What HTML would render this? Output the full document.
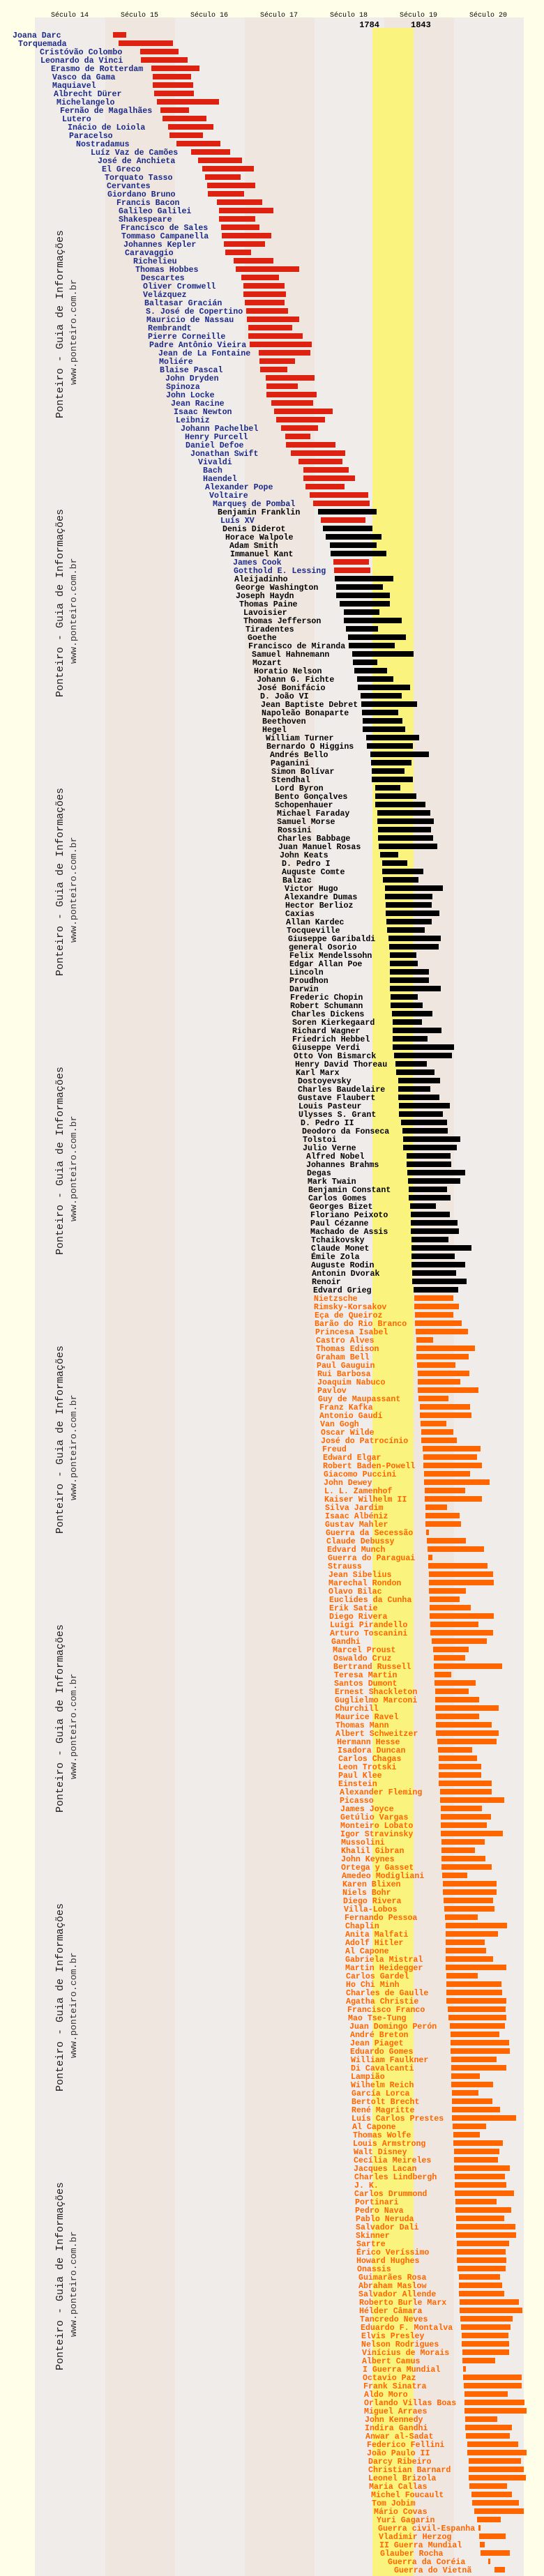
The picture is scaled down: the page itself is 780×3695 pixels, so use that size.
<!DOCTYPE html>
<html><head><meta charset="utf-8"><style>
html,body{margin:0;padding:0;background:#fffee8;}
svg{display:block}
.rows line{stroke-width:8}
.rows text{font-family:"Liberation Mono",monospace;font-weight:bold;font-size:11.6px;transform:translate(-144px,4px)}
.u line{stroke:#dd2211}.u text{fill:#1c2a88}
.k line{stroke:#000}.k text{fill:#000}
.o line{stroke:#ff6600}.o text{fill:#ff6600}
.hd{font-family:"Liberation Mono",monospace;font-size:10px;fill:#000}
.yr{font-family:"Liberation Mono",monospace;font-size:12px;font-weight:bold;fill:#000}
.wm{font-family:"Liberation Mono",monospace;font-size:15px;fill:#222}
.wu{font-family:"Liberation Mono",monospace;font-size:13.3px;fill:#333}
</style></head><body>
<svg width="780" height="3695" xmlns="http://www.w3.org/2000/svg">
<rect x="0" y="0" width="780" height="3695" fill="#fffee8"/>
<rect x="50" y="25" width="101" height="3670" fill="#f0ecea"/>
<rect x="151" y="25" width="100" height="3670" fill="#efe6df"/>
<rect x="251" y="25" width="100" height="3670" fill="#f0ecea"/>
<rect x="351" y="25" width="100" height="3670" fill="#efe6df"/>
<rect x="451" y="25" width="100" height="3670" fill="#f0ecea"/>
<rect x="551" y="25" width="100" height="3670" fill="#efe6df"/>
<rect x="651" y="25" width="100" height="3670" fill="#f0ecea"/>
<rect x="534" y="40" width="59" height="3655" fill="#faf47e"/>
<g class="hd" text-anchor="middle">
<text x="100" y="24">Século 14</text><text x="200" y="24">Século 15</text><text x="300" y="24">Século 16</text><text x="400" y="24">Século 17</text><text x="500" y="24">Século 18</text><text x="600" y="24">Século 19</text><text x="700" y="24">Século 20</text>
</g>
<text class="yr" x="544" y="39" text-anchor="end">1784</text>
<text class="yr" x="589" y="39">1843</text>
<g>
<text class="wm" transform="translate(90,600) rotate(-90)">Ponteiro - Guia de Informações</text><text class="wu" transform="translate(109,552) rotate(-90)">www.ponteiro.com.br</text>
<text class="wm" transform="translate(90,1000) rotate(-90)">Ponteiro - Guia de Informações</text><text class="wu" transform="translate(109,952) rotate(-90)">www.ponteiro.com.br</text>
<text class="wm" transform="translate(90,1400) rotate(-90)">Ponteiro - Guia de Informações</text><text class="wu" transform="translate(109,1352) rotate(-90)">www.ponteiro.com.br</text>
<text class="wm" transform="translate(90,1800) rotate(-90)">Ponteiro - Guia de Informações</text><text class="wu" transform="translate(109,1752) rotate(-90)">www.ponteiro.com.br</text>
<text class="wm" transform="translate(90,2200) rotate(-90)">Ponteiro - Guia de Informações</text><text class="wu" transform="translate(109,2152) rotate(-90)">www.ponteiro.com.br</text>
<text class="wm" transform="translate(90,2600) rotate(-90)">Ponteiro - Guia de Informações</text><text class="wu" transform="translate(109,2552) rotate(-90)">www.ponteiro.com.br</text>
<text class="wm" transform="translate(90,3000) rotate(-90)">Ponteiro - Guia de Informações</text><text class="wu" transform="translate(109,2952) rotate(-90)">www.ponteiro.com.br</text>
<text class="wm" transform="translate(90,3400) rotate(-90)">Ponteiro - Guia de Informações</text><text class="wu" transform="translate(109,3352) rotate(-90)">www.ponteiro.com.br</text>
</g>
<g class="rows" transform="translate(-1250,0)">
<g class="u" transform="translate(0,50)"><line x1="1412" x2="1431"/><text x="1412">Joana Darc</text></g>
<g class="u" transform="translate(0,62)"><line x1="1420" x2="1498"/><text x="1420">Torquemada</text></g>
<g class="u" transform="translate(0,74)"><line x1="1451" x2="1506"/><text x="1451">Cristóvão Colombo</text></g>
<g class="u" transform="translate(0,86)"><line x1="1452" x2="1519"/><text x="1452">Leonardo da Vinci</text></g>
<g class="u" transform="translate(0,98)"><line x1="1467" x2="1536"/><text x="1467">Erasmo de Rotterdam</text></g>
<g class="u" transform="translate(0,110)"><line x1="1469" x2="1524"/><text x="1469">Vasco da Gama</text></g>
<g class="u" transform="translate(0,122)"><line x1="1469" x2="1527"/><text x="1469">Maquiavel</text></g>
<g class="u" transform="translate(0,134)"><line x1="1471" x2="1528"/><text x="1471">Albrecht Dürer</text></g>
<g class="u" transform="translate(0,146)"><line x1="1475" x2="1564"/><text x="1475">Michelangelo</text></g>
<g class="u" transform="translate(0,158)"><line x1="1480" x2="1521"/><text x="1480">Fernão de Magalhães</text></g>
<g class="u" transform="translate(0,170)"><line x1="1483" x2="1546"/><text x="1483">Lutero</text></g>
<g class="u" transform="translate(0,182)"><line x1="1491" x2="1556"/><text x="1491">Inácio de Loiola</text></g>
<g class="u" transform="translate(0,194)"><line x1="1493" x2="1541"/><text x="1493">Paracelso</text></g>
<g class="u" transform="translate(0,206)"><line x1="1503" x2="1566"/><text x="1503">Nostradamus</text></g>
<g class="u" transform="translate(0,218)"><line x1="1524" x2="1580"/><text x="1524">Luíz Vaz de Camões</text></g>
<g class="u" transform="translate(0,230)"><line x1="1534" x2="1597"/><text x="1534">José de Anchieta</text></g>
<g class="u" transform="translate(0,242)"><line x1="1540" x2="1614"/><text x="1540">El Greco</text></g>
<g class="u" transform="translate(0,254)"><line x1="1544" x2="1595"/><text x="1544">Torquato Tasso</text></g>
<g class="u" transform="translate(0,266)"><line x1="1547" x2="1616"/><text x="1547">Cervantes</text></g>
<g class="u" transform="translate(0,278)"><line x1="1548" x2="1600"/><text x="1548">Giordano Bruno</text></g>
<g class="u" transform="translate(0,290)"><line x1="1561" x2="1626"/><text x="1561">Francis Bacon</text></g>
<g class="u" transform="translate(0,302)"><line x1="1564" x2="1642"/><text x="1564">Galileo Galilei</text></g>
<g class="u" transform="translate(0,314)"><line x1="1564" x2="1616"/><text x="1564">Shakespeare</text></g>
<g class="u" transform="translate(0,326)"><line x1="1567" x2="1622"/><text x="1567">Francisco de Sales</text></g>
<g class="u" transform="translate(0,338)"><line x1="1568" x2="1639"/><text x="1568">Tommaso Campanella</text></g>
<g class="u" transform="translate(0,350)"><line x1="1571" x2="1630"/><text x="1571">Johannes Kepler</text></g>
<g class="u" transform="translate(0,362)"><line x1="1573" x2="1610"/><text x="1573">Caravaggio</text></g>
<g class="u" transform="translate(0,374)"><line x1="1585" x2="1642"/><text x="1585">Richelieu</text></g>
<g class="u" transform="translate(0,386)"><line x1="1588" x2="1679"/><text x="1588">Thomas Hobbes</text></g>
<g class="u" transform="translate(0,398)"><line x1="1596" x2="1650"/><text x="1596">Descartes</text></g>
<g class="u" transform="translate(0,410)"><line x1="1599" x2="1658"/><text x="1599">Oliver Cromwell</text></g>
<g class="u" transform="translate(0,422)"><line x1="1599" x2="1660"/><text x="1599">Velázquez</text></g>
<g class="u" transform="translate(0,434)"><line x1="1601" x2="1658"/><text x="1601">Baltasar Gracián</text></g>
<g class="u" transform="translate(0,446)"><line x1="1603" x2="1663"/><text x="1603">S. José de Copertino</text></g>
<g class="u" transform="translate(0,458)"><line x1="1604" x2="1679"/><text x="1604">Mauricio de Nassau</text></g>
<g class="u" transform="translate(0,470)"><line x1="1606" x2="1669"/><text x="1606">Rembrandt</text></g>
<g class="u" transform="translate(0,482)"><line x1="1606" x2="1684"/><text x="1606">Pierre Corneille</text></g>
<g class="u" transform="translate(0,494)"><line x1="1608" x2="1697"/><text x="1608">Padre Antônio Vieira</text></g>
<g class="u" transform="translate(0,506)"><line x1="1621" x2="1695"/><text x="1621">Jean de La Fontaine</text></g>
<g class="u" transform="translate(0,518)"><line x1="1622" x2="1673"/><text x="1622">Moliére</text></g>
<g class="u" transform="translate(0,530)"><line x1="1623" x2="1662"/><text x="1623">Blaise Pascal</text></g>
<g class="u" transform="translate(0,542)"><line x1="1631" x2="1701"/><text x="1631">John Dryden</text></g>
<g class="u" transform="translate(0,554)"><line x1="1632" x2="1677"/><text x="1632">Spinoza</text></g>
<g class="u" transform="translate(0,566)"><line x1="1632" x2="1704"/><text x="1632">John Locke</text></g>
<g class="u" transform="translate(0,578)"><line x1="1639" x2="1699"/><text x="1639">Jean Racine</text></g>
<g class="u" transform="translate(0,590)"><line x1="1643" x2="1727"/><text x="1643">Isaac Newton</text></g>
<g class="u" transform="translate(0,602)"><line x1="1646" x2="1716"/><text x="1646">Leibniz</text></g>
<g class="u" transform="translate(0,614)"><line x1="1653" x2="1706"/><text x="1653">Johann Pachelbel</text></g>
<g class="u" transform="translate(0,626)"><line x1="1659" x2="1695"/><text x="1659">Henry Purcell</text></g>
<g class="u" transform="translate(0,638)"><line x1="1660" x2="1731"/><text x="1660">Daniel Defoe</text></g>
<g class="u" transform="translate(0,650)"><line x1="1667" x2="1745"/><text x="1667">Jonathan Swift</text></g>
<g class="u" transform="translate(0,662)"><line x1="1678" x2="1741"/><text x="1678">Vivaldi</text></g>
<g class="u" transform="translate(0,674)"><line x1="1685" x2="1750"/><text x="1685">Bach</text></g>
<g class="u" transform="translate(0,686)"><line x1="1685" x2="1759"/><text x="1685">Haendel</text></g>
<g class="u" transform="translate(0,698)"><line x1="1688" x2="1744"/><text x="1688">Alexander Pope</text></g>
<g class="u" transform="translate(0,710)"><line x1="1694" x2="1778"/><text x="1694">Voltaire</text></g>
<g class="u" transform="translate(0,722)"><line x1="1699" x2="1780"/><text x="1699">Marqueş de Pombal</text></g>
<g class="k" transform="translate(0,734)"><line x1="1706" x2="1790"/><text x="1706">Benjamin Franklin</text></g>
<g class="u" transform="translate(0,746)"><line x1="1710" x2="1774"/><text x="1710">Luís XV</text></g>
<g class="k" transform="translate(0,758)"><line x1="1713" x2="1784"/><text x="1713">Denis Diderot</text></g>
<g class="k" transform="translate(0,770)"><line x1="1717" x2="1797"/><text x="1717">Horace Walpole</text></g>
<g class="k" transform="translate(0,782)"><line x1="1723" x2="1790"/><text x="1723">Adam Smith</text></g>
<g class="k" transform="translate(0,794)"><line x1="1724" x2="1804"/><text x="1724">Immanuel Kant</text></g>
<g class="u" transform="translate(0,806)"><line x1="1728" x2="1779"/><text x="1728">James Cook</text></g>
<g class="u" transform="translate(0,818)"><line x1="1729" x2="1781"/><text x="1729">Gotthold E. Lessing</text></g>
<g class="k" transform="translate(0,830)"><line x1="1730" x2="1814"/><text x="1730">Aleijadinho</text></g>
<g class="k" transform="translate(0,842)"><line x1="1732" x2="1799"/><text x="1732">George Washington</text></g>
<g class="k" transform="translate(0,854)"><line x1="1732" x2="1809"/><text x="1732">Joseph Haydn</text></g>
<g class="k" transform="translate(0,866)"><line x1="1737" x2="1809"/><text x="1737">Thomas Paine</text></g>
<g class="k" transform="translate(0,878)"><line x1="1743" x2="1794"/><text x="1743">Lavoisier</text></g>
<g class="k" transform="translate(0,890)"><line x1="1743" x2="1826"/><text x="1743">Thomas Jefferson</text></g>
<g class="k" transform="translate(0,902)"><line x1="1746" x2="1792"/><text x="1746">Tiradentes</text></g>
<g class="k" transform="translate(0,914)"><line x1="1749" x2="1832"/><text x="1749">Goethe</text></g>
<g class="k" transform="translate(0,926)"><line x1="1750" x2="1816"/><text x="1750">Francisco de Miranda</text></g>
<g class="k" transform="translate(0,938)"><line x1="1755" x2="1843"/><text x="1755">Samuel Hahnemann</text></g>
<g class="k" transform="translate(0,950)"><line x1="1756" x2="1791"/><text x="1756">Mozart</text></g>
<g class="k" transform="translate(0,962)"><line x1="1758" x2="1805"/><text x="1758">Horatio Nelson</text></g>
<g class="k" transform="translate(0,974)"><line x1="1762" x2="1814"/><text x="1762">Johann G. Fichte</text></g>
<g class="k" transform="translate(0,986)"><line x1="1763" x2="1838"/><text x="1763">José Bonifácio</text></g>
<g class="k" transform="translate(0,998)"><line x1="1767" x2="1826"/><text x="1767">D. João VI</text></g>
<g class="k" transform="translate(0,1010)"><line x1="1768" x2="1848"/><text x="1768">Jean Baptiste Debret</text></g>
<g class="k" transform="translate(0,1022)"><line x1="1769" x2="1821"/><text x="1769">Napoleão Bonaparte</text></g>
<g class="k" transform="translate(0,1034)"><line x1="1770" x2="1827"/><text x="1770">Beethoven</text></g>
<g class="k" transform="translate(0,1046)"><line x1="1770" x2="1831"/><text x="1770">Hegel</text></g>
<g class="k" transform="translate(0,1058)"><line x1="1775" x2="1851"/><text x="1775">William Turner</text></g>
<g class="k" transform="translate(0,1070)"><line x1="1776" x2="1842"/><text x="1776">Bernardo O Higgins</text></g>
<g class="k" transform="translate(0,1082)"><line x1="1781" x2="1865"/><text x="1781">Andrés Bello</text></g>
<g class="k" transform="translate(0,1094)"><line x1="1782" x2="1840"/><text x="1782">Paganini</text></g>
<g class="k" transform="translate(0,1106)"><line x1="1783" x2="1830"/><text x="1783">Simon Bolívar</text></g>
<g class="k" transform="translate(0,1118)"><line x1="1783" x2="1842"/><text x="1783">Stendhal</text></g>
<g class="k" transform="translate(0,1130)"><line x1="1788" x2="1824"/><text x="1788">Lord Byron</text></g>
<g class="k" transform="translate(0,1142)"><line x1="1788" x2="1847"/><text x="1788">Bento Gonçalves</text></g>
<g class="k" transform="translate(0,1154)"><line x1="1788" x2="1860"/><text x="1788">Schopenhauer</text></g>
<g class="k" transform="translate(0,1166)"><line x1="1791" x2="1867"/><text x="1791">Michael Faraday</text></g>
<g class="k" transform="translate(0,1178)"><line x1="1791" x2="1872"/><text x="1791">Samuel Morse</text></g>
<g class="k" transform="translate(0,1190)"><line x1="1792" x2="1868"/><text x="1792">Rossini</text></g>
<g class="k" transform="translate(0,1202)"><line x1="1792" x2="1871"/><text x="1792">Charles Babbage</text></g>
<g class="k" transform="translate(0,1214)"><line x1="1793" x2="1877"/><text x="1793">Juan Manuel Rosas</text></g>
<g class="k" transform="translate(0,1226)"><line x1="1795" x2="1821"/><text x="1795">John Keats</text></g>
<g class="k" transform="translate(0,1238)"><line x1="1798" x2="1834"/><text x="1798">D. Pedro I</text></g>
<g class="k" transform="translate(0,1250)"><line x1="1798" x2="1857"/><text x="1798">Auguste Comte</text></g>
<g class="k" transform="translate(0,1262)"><line x1="1799" x2="1850"/><text x="1799">Balzac</text></g>
<g class="k" transform="translate(0,1274)"><line x1="1802" x2="1885"/><text x="1802">Victor Hugo</text></g>
<g class="k" transform="translate(0,1286)"><line x1="1802" x2="1870"/><text x="1802">Alexandre Dumas</text></g>
<g class="k" transform="translate(0,1298)"><line x1="1803" x2="1869"/><text x="1803">Hector Berlioz</text></g>
<g class="k" transform="translate(0,1310)"><line x1="1803" x2="1880"/><text x="1803">Caxias</text></g>
<g class="k" transform="translate(0,1322)"><line x1="1804" x2="1869"/><text x="1804">Allan Kardec</text></g>
<g class="k" transform="translate(0,1334)"><line x1="1805" x2="1859"/><text x="1805">Tocqueville</text></g>
<g class="k" transform="translate(0,1346)"><line x1="1807" x2="1882"/><text x="1807">Giuseppe Garibaldi</text></g>
<g class="k" transform="translate(0,1358)"><line x1="1808" x2="1879"/><text x="1808">general Osorio</text></g>
<g class="k" transform="translate(0,1370)"><line x1="1809" x2="1847"/><text x="1809">Felix Mendelssohn</text></g>
<g class="k" transform="translate(0,1382)"><line x1="1809" x2="1849"/><text x="1809">Edgar Allan Poe</text></g>
<g class="k" transform="translate(0,1394)"><line x1="1809" x2="1865"/><text x="1809">Lincoln</text></g>
<g class="k" transform="translate(0,1406)"><line x1="1809" x2="1865"/><text x="1809">Proudhon</text></g>
<g class="k" transform="translate(0,1418)"><line x1="1809" x2="1882"/><text x="1809">Darwin</text></g>
<g class="k" transform="translate(0,1430)"><line x1="1810" x2="1849"/><text x="1810">Frederic Chopin</text></g>
<g class="k" transform="translate(0,1442)"><line x1="1810" x2="1856"/><text x="1810">Robert Schumann</text></g>
<g class="k" transform="translate(0,1454)"><line x1="1812" x2="1870"/><text x="1812">Charles Dickens</text></g>
<g class="k" transform="translate(0,1466)"><line x1="1813" x2="1855"/><text x="1813">Soren Kierkegaard</text></g>
<g class="k" transform="translate(0,1478)"><line x1="1813" x2="1883"/><text x="1813">Richard Wagner</text></g>
<g class="k" transform="translate(0,1490)"><line x1="1813" x2="1863"/><text x="1813">Friedrich Hebbel</text></g>
<g class="k" transform="translate(0,1502)"><line x1="1813" x2="1901"/><text x="1813">Giuseppe Verdi</text></g>
<g class="k" transform="translate(0,1514)"><line x1="1815" x2="1898"/><text x="1815">Otto Von Bismarck</text></g>
<g class="k" transform="translate(0,1526)"><line x1="1817" x2="1862"/><text x="1817">Henry David Thoreau</text></g>
<g class="k" transform="translate(0,1538)"><line x1="1818" x2="1873"/><text x="1818">Karl Marx</text></g>
<g class="k" transform="translate(0,1550)"><line x1="1821" x2="1881"/><text x="1821">Dostoyevsky</text></g>
<g class="k" transform="translate(0,1562)"><line x1="1821" x2="1867"/><text x="1821">Charles Baudelaire</text></g>
<g class="k" transform="translate(0,1574)"><line x1="1821" x2="1880"/><text x="1821">Gustave Flaubert</text></g>
<g class="k" transform="translate(0,1586)"><line x1="1822" x2="1895"/><text x="1822">Louis Pasteur</text></g>
<g class="k" transform="translate(0,1598)"><line x1="1822" x2="1885"/><text x="1822">Ulysses S. Grant</text></g>
<g class="k" transform="translate(0,1610)"><line x1="1825" x2="1891"/><text x="1825">D. Pedro II</text></g>
<g class="k" transform="translate(0,1622)"><line x1="1827" x2="1892"/><text x="1827">Deodoro da Fonseca</text></g>
<g class="k" transform="translate(0,1634)"><line x1="1828" x2="1910"/><text x="1828">Tolstoi</text></g>
<g class="k" transform="translate(0,1646)"><line x1="1828" x2="1905"/><text x="1828">Julio Verne</text></g>
<g class="k" transform="translate(0,1658)"><line x1="1833" x2="1896"/><text x="1833">Alfred Nobel</text></g>
<g class="k" transform="translate(0,1670)"><line x1="1833" x2="1897"/><text x="1833">Johannes Brahms</text></g>
<g class="k" transform="translate(0,1682)"><line x1="1834" x2="1917"/><text x="1834">Degas</text></g>
<g class="k" transform="translate(0,1694)"><line x1="1835" x2="1910"/><text x="1835">Mark Twain</text></g>
<g class="k" transform="translate(0,1706)"><line x1="1836" x2="1891"/><text x="1836">Benjamin Constant</text></g>
<g class="k" transform="translate(0,1718)"><line x1="1836" x2="1896"/><text x="1836">Carlos Gomes</text></g>
<g class="k" transform="translate(0,1730)"><line x1="1838" x2="1875"/><text x="1838">Georges Bizet</text></g>
<g class="k" transform="translate(0,1742)"><line x1="1839" x2="1895"/><text x="1839">Floriano Peixoto</text></g>
<g class="k" transform="translate(0,1754)"><line x1="1839" x2="1906"/><text x="1839">Paul Cézanne</text></g>
<g class="k" transform="translate(0,1766)"><line x1="1839" x2="1908"/><text x="1839">Machado de Assis</text></g>
<g class="k" transform="translate(0,1778)"><line x1="1840" x2="1893"/><text x="1840">Tchaikovsky</text></g>
<g class="k" transform="translate(0,1790)"><line x1="1840" x2="1926"/><text x="1840">Claude Monet</text></g>
<g class="k" transform="translate(0,1802)"><line x1="1840" x2="1902"/><text x="1840">Émile Zola</text></g>
<g class="k" transform="translate(0,1814)"><line x1="1840" x2="1917"/><text x="1840">Auguste Rodin</text></g>
<g class="k" transform="translate(0,1826)"><line x1="1841" x2="1904"/><text x="1841">Antonin Dvorak</text></g>
<g class="k" transform="translate(0,1838)"><line x1="1841" x2="1919"/><text x="1841">Renoir</text></g>
<g class="k" transform="translate(0,1850)"><line x1="1843" x2="1907"/><text x="1843">Edvard Grieg</text></g>
<g class="o" transform="translate(0,1862)"><line x1="1844" x2="1900"/><text x="1844">Nietzsche</text></g>
<g class="o" transform="translate(0,1874)"><line x1="1844" x2="1908"/><text x="1844">Rimsky-Korsakov</text></g>
<g class="o" transform="translate(0,1886)"><line x1="1845" x2="1900"/><text x="1845">Eça de Queiroz</text></g>
<g class="o" transform="translate(0,1898)"><line x1="1845" x2="1912"/><text x="1845">Barão do Rio Branco</text></g>
<g class="o" transform="translate(0,1910)"><line x1="1846" x2="1921"/><text x="1846">Princesa Isabel</text></g>
<g class="o" transform="translate(0,1922)"><line x1="1847" x2="1871"/><text x="1847">Castro Alves</text></g>
<g class="o" transform="translate(0,1934)"><line x1="1847" x2="1931"/><text x="1847">Thomas Edison</text></g>
<g class="o" transform="translate(0,1946)"><line x1="1847" x2="1922"/><text x="1847">Graham Bell</text></g>
<g class="o" transform="translate(0,1958)"><line x1="1848" x2="1903"/><text x="1848">Paul Gauguin</text></g>
<g class="o" transform="translate(0,1970)"><line x1="1849" x2="1923"/><text x="1849">Rui Barbosa</text></g>
<g class="o" transform="translate(0,1982)"><line x1="1849" x2="1910"/><text x="1849">Joaquim Nabuco</text></g>
<g class="o" transform="translate(0,1994)"><line x1="1849" x2="1936"/><text x="1849">Pavlov</text></g>
<g class="o" transform="translate(0,2006)"><line x1="1850" x2="1893"/><text x="1850">Guy de Maupassant</text></g>
<g class="o" transform="translate(0,2018)"><line x1="1852" x2="1924"/><text x="1852">Franz Kafka</text></g>
<g class="o" transform="translate(0,2030)"><line x1="1852" x2="1926"/><text x="1852">Antonio Gaudí</text></g>
<g class="o" transform="translate(0,2042)"><line x1="1853" x2="1890"/><text x="1853">Van Gogh</text></g>
<g class="o" transform="translate(0,2054)"><line x1="1854" x2="1900"/><text x="1854">Oscar Wilde</text></g>
<g class="o" transform="translate(0,2066)"><line x1="1854" x2="1905"/><text x="1854">José do Patrocínio</text></g>
<g class="o" transform="translate(0,2078)"><line x1="1856" x2="1939"/><text x="1856">Freud</text></g>
<g class="o" transform="translate(0,2090)"><line x1="1857" x2="1934"/><text x="1857">Edward Elgar</text></g>
<g class="o" transform="translate(0,2102)"><line x1="1857" x2="1941"/><text x="1857">Robert Baden-Powell</text></g>
<g class="o" transform="translate(0,2114)"><line x1="1858" x2="1924"/><text x="1858">Giacomo Puccini</text></g>
<g class="o" transform="translate(0,2126)"><line x1="1858" x2="1952"/><text x="1858">John Dewey</text></g>
<g class="o" transform="translate(0,2138)"><line x1="1859" x2="1917"/><text x="1859">L. L. Zamenhof</text></g>
<g class="o" transform="translate(0,2150)"><line x1="1859" x2="1941"/><text x="1859">Kaiser Wilhelm II</text></g>
<g class="o" transform="translate(0,2162)"><line x1="1860" x2="1891"/><text x="1860">Silva Jardim</text></g>
<g class="o" transform="translate(0,2174)"><line x1="1860" x2="1909"/><text x="1860">Isaac Albéniz</text></g>
<g class="o" transform="translate(0,2186)"><line x1="1860" x2="1911"/><text x="1860">Gustav Mahler</text></g>
<g class="o" transform="translate(0,2198)"><line x1="1861" x2="1865"/><text x="1861">Guerra da Secessão</text></g>
<g class="o" transform="translate(0,2210)"><line x1="1862" x2="1918"/><text x="1862">Claude Debussy</text></g>
<g class="o" transform="translate(0,2222)"><line x1="1863" x2="1944"/><text x="1863">Edvard Munch</text></g>
<g class="o" transform="translate(0,2234)"><line x1="1864" x2="1870"/><text x="1864">Guerra do Paraguai</text></g>
<g class="o" transform="translate(0,2246)"><line x1="1864" x2="1949"/><text x="1864">Strauss</text></g>
<g class="o" transform="translate(0,2258)"><line x1="1865" x2="1957"/><text x="1865">Jean Sibelius</text></g>
<g class="o" transform="translate(0,2270)"><line x1="1865" x2="1958"/><text x="1865">Marechal Rondon</text></g>
<g class="o" transform="translate(0,2282)"><line x1="1865" x2="1918"/><text x="1865">Olavo Bilac</text></g>
<g class="o" transform="translate(0,2294)"><line x1="1866" x2="1909"/><text x="1866">Euclides da Cunha</text></g>
<g class="o" transform="translate(0,2306)"><line x1="1866" x2="1925"/><text x="1866">Erik Satie</text></g>
<g class="o" transform="translate(0,2318)"><line x1="1866" x2="1958"/><text x="1866">Diego Rivera</text></g>
<g class="o" transform="translate(0,2330)"><line x1="1867" x2="1936"/><text x="1867">Luigi Pirandello</text></g>
<g class="o" transform="translate(0,2342)"><line x1="1867" x2="1957"/><text x="1867">Arturo Toscanini</text></g>
<g class="o" transform="translate(0,2354)"><line x1="1869" x2="1948"/><text x="1869">Gandhi</text></g>
<g class="o" transform="translate(0,2366)"><line x1="1871" x2="1922"/><text x="1871">Marcel Proust</text></g>
<g class="o" transform="translate(0,2378)"><line x1="1872" x2="1917"/><text x="1872">Oswaldo Cruz</text></g>
<g class="o" transform="translate(0,2390)"><line x1="1872" x2="1970"/><text x="1872">Bertrand Russell</text></g>
<g class="o" transform="translate(0,2402)"><line x1="1873" x2="1897"/><text x="1873">Teresa Martin</text></g>
<g class="o" transform="translate(0,2414)"><line x1="1873" x2="1932"/><text x="1873">Santos Dumont</text></g>
<g class="o" transform="translate(0,2426)"><line x1="1874" x2="1922"/><text x="1874">Ernest Shackleton</text></g>
<g class="o" transform="translate(0,2438)"><line x1="1874" x2="1937"/><text x="1874">Guglielmo Marconi</text></g>
<g class="o" transform="translate(0,2450)"><line x1="1874" x2="1965"/><text x="1874">Churchill</text></g>
<g class="o" transform="translate(0,2462)"><line x1="1875" x2="1937"/><text x="1875">Maurice Ravel</text></g>
<g class="o" transform="translate(0,2474)"><line x1="1875" x2="1955"/><text x="1875">Thomas Mann</text></g>
<g class="o" transform="translate(0,2486)"><line x1="1875" x2="1965"/><text x="1875">Albert Schweitzer</text></g>
<g class="o" transform="translate(0,2498)"><line x1="1877" x2="1962"/><text x="1877">Hermann Hesse</text></g>
<g class="o" transform="translate(0,2510)"><line x1="1878" x2="1927"/><text x="1878">Isadora Duncan</text></g>
<g class="o" transform="translate(0,2522)"><line x1="1879" x2="1934"/><text x="1879">Carlos Chagas</text></g>
<g class="o" transform="translate(0,2534)"><line x1="1879" x2="1940"/><text x="1879">Leon Trotski</text></g>
<g class="o" transform="translate(0,2546)"><line x1="1879" x2="1940"/><text x="1879">Paul Klee</text></g>
<g class="o" transform="translate(0,2558)"><line x1="1879" x2="1955"/><text x="1879">Einstein</text></g>
<g class="o" transform="translate(0,2570)"><line x1="1881" x2="1955"/><text x="1881">Alexander Fleming</text></g>
<g class="o" transform="translate(0,2582)"><line x1="1881" x2="1973"/><text x="1881">Picasso</text></g>
<g class="o" transform="translate(0,2594)"><line x1="1882" x2="1941"/><text x="1882">James Joyce</text></g>
<g class="o" transform="translate(0,2606)"><line x1="1882" x2="1954"/><text x="1882">Getúlio Vargas</text></g>
<g class="o" transform="translate(0,2618)"><line x1="1882" x2="1948"/><text x="1882">Monteiro Lobato</text></g>
<g class="o" transform="translate(0,2630)"><line x1="1882" x2="1971"/><text x="1882">Igor Stravinsky</text></g>
<g class="o" transform="translate(0,2642)"><line x1="1883" x2="1945"/><text x="1883">Mussolini</text></g>
<g class="o" transform="translate(0,2654)"><line x1="1883" x2="1931"/><text x="1883">Khalil Gibran</text></g>
<g class="o" transform="translate(0,2666)"><line x1="1883" x2="1946"/><text x="1883">John Keynes</text></g>
<g class="o" transform="translate(0,2678)"><line x1="1883" x2="1955"/><text x="1883">Ortega y Gasset</text></g>
<g class="o" transform="translate(0,2690)"><line x1="1884" x2="1920"/><text x="1884">Amedeo Modigliani</text></g>
<g class="o" transform="translate(0,2702)"><line x1="1885" x2="1962"/><text x="1885">Karen Blixen</text></g>
<g class="o" transform="translate(0,2714)"><line x1="1885" x2="1962"/><text x="1885">Niels Bohr</text></g>
<g class="o" transform="translate(0,2726)"><line x1="1886" x2="1957"/><text x="1886">Diego Rivera</text></g>
<g class="o" transform="translate(0,2738)"><line x1="1887" x2="1959"/><text x="1887">Villa-Lobos</text></g>
<g class="o" transform="translate(0,2750)"><line x1="1888" x2="1935"/><text x="1888">Fernando Pessoa</text></g>
<g class="o" transform="translate(0,2762)"><line x1="1889" x2="1977"/><text x="1889">Chaplin</text></g>
<g class="o" transform="translate(0,2774)"><line x1="1889" x2="1964"/><text x="1889">Anita Malfati</text></g>
<g class="o" transform="translate(0,2786)"><line x1="1889" x2="1945"/><text x="1889">Adolf Hitler</text></g>
<g class="o" transform="translate(0,2798)"><line x1="1889" x2="1947"/><text x="1889">Al Capone</text></g>
<g class="o" transform="translate(0,2810)"><line x1="1889" x2="1957"/><text x="1889">Gabriela Mistral</text></g>
<g class="o" transform="translate(0,2822)"><line x1="1889" x2="1976"/><text x="1889">Martin Heidegger</text></g>
<g class="o" transform="translate(0,2834)"><line x1="1890" x2="1935"/><text x="1890">Carlos Gardel</text></g>
<g class="o" transform="translate(0,2846)"><line x1="1890" x2="1969"/><text x="1890">Ho Chi Minh</text></g>
<g class="o" transform="translate(0,2858)"><line x1="1890" x2="1970"/><text x="1890">Charles de Gaulle</text></g>
<g class="o" transform="translate(0,2870)"><line x1="1890" x2="1976"/><text x="1890">Agatha Christie</text></g>
<g class="o" transform="translate(0,2882)"><line x1="1892" x2="1975"/><text x="1892">Francisco Franco</text></g>
<g class="o" transform="translate(0,2894)"><line x1="1893" x2="1976"/><text x="1893">Mao Tse-Tung</text></g>
<g class="o" transform="translate(0,2906)"><line x1="1895" x2="1974"/><text x="1895">Juan Domingo Perón</text></g>
<g class="o" transform="translate(0,2918)"><line x1="1896" x2="1966"/><text x="1896">André Breton</text></g>
<g class="o" transform="translate(0,2930)"><line x1="1896" x2="1980"/><text x="1896">Jean Piaget</text></g>
<g class="o" transform="translate(0,2942)"><line x1="1896" x2="1981"/><text x="1896">Eduardo Gomes</text></g>
<g class="o" transform="translate(0,2954)"><line x1="1897" x2="1962"/><text x="1897">William Faulkner</text></g>
<g class="o" transform="translate(0,2966)"><line x1="1897" x2="1976"/><text x="1897">Di Cavalcanti</text></g>
<g class="o" transform="translate(0,2978)"><line x1="1897" x2="1938"/><text x="1897">Lampião</text></g>
<g class="o" transform="translate(0,2990)"><line x1="1897" x2="1957"/><text x="1897">Wilhelm Reich</text></g>
<g class="o" transform="translate(0,3002)"><line x1="1898" x2="1936"/><text x="1898">García Lorca</text></g>
<g class="o" transform="translate(0,3014)"><line x1="1898" x2="1956"/><text x="1898">Bertolt Brecht</text></g>
<g class="o" transform="translate(0,3026)"><line x1="1898" x2="1967"/><text x="1898">René Magritte</text></g>
<g class="o" transform="translate(0,3038)"><line x1="1898" x2="1990"/><text x="1898">Luís Carlos Prestes</text></g>
<g class="o" transform="translate(0,3050)"><line x1="1899" x2="1947"/><text x="1899">Al Capone</text></g>
<g class="o" transform="translate(0,3062)"><line x1="1900" x2="1938"/><text x="1900">Thomas Wolfe</text></g>
<g class="o" transform="translate(0,3074)"><line x1="1900" x2="1971"/><text x="1900">Louis Armstrong</text></g>
<g class="o" transform="translate(0,3086)"><line x1="1901" x2="1966"/><text x="1901">Walt Disney</text></g>
<g class="o" transform="translate(0,3098)"><line x1="1901" x2="1964"/><text x="1901">Cecília Meireles</text></g>
<g class="o" transform="translate(0,3110)"><line x1="1901" x2="1981"/><text x="1901">Jacques Lacan</text></g>
<g class="o" transform="translate(0,3122)"><line x1="1902" x2="1974"/><text x="1902">Charles Lindbergh</text></g>
<g class="o" transform="translate(0,3134)"><line x1="1902" x2="1976"/><text x="1902">J. K.</text></g>
<g class="o" transform="translate(0,3146)"><line x1="1902" x2="1987"/><text x="1902">Carlos Drummond</text></g>
<g class="o" transform="translate(0,3158)"><line x1="1903" x2="1962"/><text x="1903">Portinari</text></g>
<g class="o" transform="translate(0,3170)"><line x1="1903" x2="1983"/><text x="1903">Pedro Nava</text></g>
<g class="o" transform="translate(0,3182)"><line x1="1904" x2="1973"/><text x="1904">Pablo Neruda</text></g>
<g class="o" transform="translate(0,3194)"><line x1="1904" x2="1989"/><text x="1904">Salvador Dali</text></g>
<g class="o" transform="translate(0,3206)"><line x1="1904" x2="1990"/><text x="1904">Skinner</text></g>
<g class="o" transform="translate(0,3218)"><line x1="1905" x2="1980"/><text x="1905">Sartre</text></g>
<g class="o" transform="translate(0,3230)"><line x1="1905" x2="1975"/><text x="1905">Érico Veríssimo</text></g>
<g class="o" transform="translate(0,3242)"><line x1="1905" x2="1976"/><text x="1905">Howard Hughes</text></g>
<g class="o" transform="translate(0,3254)"><line x1="1906" x2="1975"/><text x="1906">Onassis</text></g>
<g class="o" transform="translate(0,3266)"><line x1="1908" x2="1967"/><text x="1908">Guimarães Rosa</text></g>
<g class="o" transform="translate(0,3278)"><line x1="1908" x2="1970"/><text x="1908">Abraham Maslow</text></g>
<g class="o" transform="translate(0,3290)"><line x1="1908" x2="1973"/><text x="1908">Salvador Allende</text></g>
<g class="o" transform="translate(0,3302)"><line x1="1909" x2="1994"/><text x="1909">Roberto Burle Marx</text></g>
<g class="o" transform="translate(0,3314)"><line x1="1909" x2="1999"/><text x="1909">Hélder Câmara</text></g>
<g class="o" transform="translate(0,3326)"><line x1="1910" x2="1985"/><text x="1910">Tancredo Neves</text></g>
<g class="o" transform="translate(0,3338)"><line x1="1911" x2="1982"/><text x="1911">Eduardo F. Montalva</text></g>
<g class="o" transform="translate(0,3350)"><line x1="1912" x2="1979"/><text x="1912">Elvis Presley</text></g>
<g class="o" transform="translate(0,3362)"><line x1="1912" x2="1980"/><text x="1912">Nelson Rodrigues</text></g>
<g class="o" transform="translate(0,3374)"><line x1="1913" x2="1980"/><text x="1913">Vinícius de Morais</text></g>
<g class="o" transform="translate(0,3386)"><line x1="1913" x2="1960"/><text x="1913">Albert Camus</text></g>
<g class="o" transform="translate(0,3398)"><line x1="1914" x2="1918"/><text x="1914">I Guerra Mundial</text></g>
<g class="o" transform="translate(0,3410)"><line x1="1914" x2="1998"/><text x="1914">Octavio Paz</text></g>
<g class="o" transform="translate(0,3422)"><line x1="1915" x2="1998"/><text x="1915">Frank Sinatra</text></g>
<g class="o" transform="translate(0,3434)"><line x1="1916" x2="1978"/><text x="1916">Aldo Moro</text></g>
<g class="o" transform="translate(0,3446)"><line x1="1916" x2="2002"/><text x="1916">Orlando Villas Boas</text></g>
<g class="o" transform="translate(0,3458)"><line x1="1916" x2="2005"/><text x="1916">Miguel Arraes</text></g>
<g class="o" transform="translate(0,3470)"><line x1="1917" x2="1963"/><text x="1917">John Kennedy</text></g>
<g class="o" transform="translate(0,3482)"><line x1="1917" x2="1984"/><text x="1917">Indira Gandhi</text></g>
<g class="o" transform="translate(0,3494)"><line x1="1918" x2="1981"/><text x="1918">Anwar al-Sadat</text></g>
<g class="o" transform="translate(0,3506)"><line x1="1920" x2="1993"/><text x="1920">Federico Fellini</text></g>
<g class="o" transform="translate(0,3518)"><line x1="1920" x2="2005"/><text x="1920">João Paulo II</text></g>
<g class="o" transform="translate(0,3530)"><line x1="1922" x2="1997"/><text x="1922">Darcy Ribeiro</text></g>
<g class="o" transform="translate(0,3542)"><line x1="1922" x2="2001"/><text x="1922">Christian Barnard</text></g>
<g class="o" transform="translate(0,3554)"><line x1="1922" x2="2004"/><text x="1922">Leonel Brizola</text></g>
<g class="o" transform="translate(0,3566)"><line x1="1923" x2="1977"/><text x="1923">Maria Callas</text></g>
<g class="o" transform="translate(0,3578)"><line x1="1926" x2="1984"/><text x="1926">Michel Foucault</text></g>
<g class="o" transform="translate(0,3590)"><line x1="1927" x2="1994"/><text x="1927">Tom Jobim</text></g>
<g class="o" transform="translate(0,3602)"><line x1="1930" x2="2001"/><text x="1930">Mário Covas</text></g>
<g class="o" transform="translate(0,3614)"><line x1="1934" x2="1968"/><text x="1934">Yuri Gagarin</text></g>
<g class="o" transform="translate(0,3626)"><line x1="1936" x2="1939"/><text x="1936">Guerra civil-Espanha</text></g>
<g class="o" transform="translate(0,3638)"><line x1="1937" x2="1975"/><text x="1937">Vladimir Herzog</text></g>
<g class="o" transform="translate(0,3650)"><line x1="1938" x2="1945"/><text x="1938">II Guerra Mundial</text></g>
<g class="o" transform="translate(0,3662)"><line x1="1939" x2="1981"/><text x="1939">Glauber Rocha</text></g>
<g class="o" transform="translate(0,3674)"><line x1="1950" x2="1953"/><text x="1950">Guerra da Coréia</text></g>
<g class="o" transform="translate(0,3686)"><line x1="1959" x2="1974"/><text x="1959">Guerra do Vietnã</text></g>
</g>
</svg>
</body></html>
